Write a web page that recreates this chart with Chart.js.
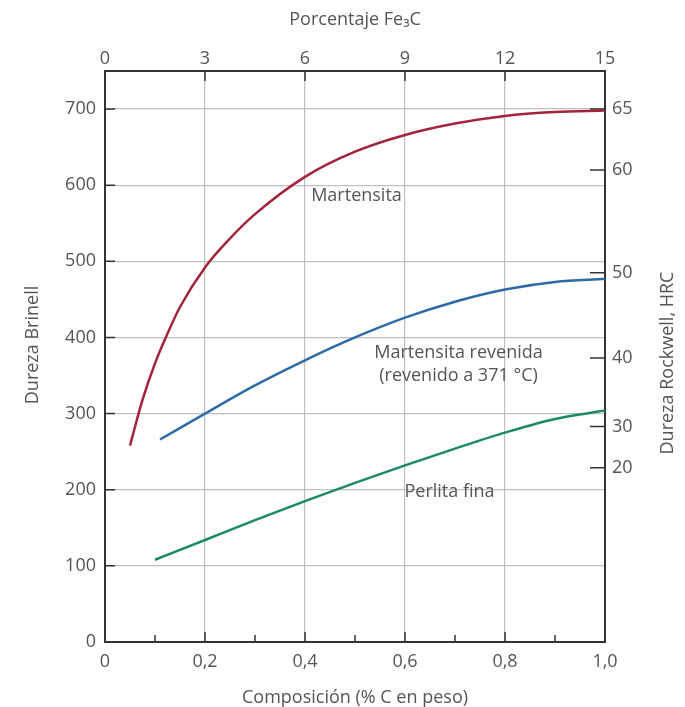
<!DOCTYPE html>
<html>
<head>
<meta charset="utf-8">
<script src="https://cdn.jsdelivr.net/npm/chart.js@4/dist/chart.umd.min.js"></script>
<style>
  html, body { margin: 0; padding: 0; background: #fff; }
  #wrap { width: 685px; height: 707px; }
</style>
</head>
<body>
<div id="wrap"><canvas id="chart" width="685" height="707"></canvas></div>
<script>
// Hardness vs. carbon content (martensite, tempered martensite, fine pearlite)

// Curve values: % C by weight -> Brinell hardness
const carbonMartensita = [0.05, 0.075, 0.10, 0.125, 0.15, 0.20, 0.25, 0.30, 0.40, 0.50, 0.60, 0.70, 0.80, 0.90, 1.00];
const hbMartensita = [258, 318, 366, 405, 440, 492, 530, 562, 611, 644, 666, 681, 691, 696, 698];

const carbonRevenida = [0.11, 0.20, 0.30, 0.40, 0.50, 0.60, 0.70, 0.80, 0.90, 1.00];
const hbRevenida = [266, 300, 337, 370, 400, 426, 447, 463, 473, 477];

const carbonPerlita = [0.10, 0.20, 0.30, 0.40, 0.50, 0.60, 0.70, 0.80, 0.90, 1.00];
const hbPerlita = [108, 134, 160, 185, 209, 232, 254, 275, 293, 304];

// Tick labels
const carbonTicks = [0, 0.2, 0.4, 0.6, 0.8, 1.0];
const carbonMinorTicks = [0.1, 0.3, 0.5, 0.7, 0.9];
const brinellTicks = [0, 100, 200, 300, 400, 500, 600, 700];
const fe3cTicks = [0, 3, 6, 9, 12, 15];
// Rockwell C scale on the right, placed at the equivalent Brinell value
const hrcTicks = [65, 60, 50, 40, 30, 20];
const hrcAtBrinell = [700, 620, 485, 373, 283, 229];

const curveNames = ['Martensita', 'Martensita revenida', 'Perlita fina'];

const TEXT = '#555';
const FONT = "'Open Sans', 'DejaVu Sans', sans-serif";
const SIZE = 18;

// text notes placed in data coordinates
const notes = [
  { text: 'Martensita', x: 0.503, y: 586 },
  { text: 'Martensita revenida', x: 0.707, y: 380 },
  { text: '(revenido a 371 °C)', x: 0.707, y: 350 },
  { text: 'Perlita fina', x: 0.689, y: 197 }
];

function toPoints(xs, ys) {
  return xs.map((x, i) => ({ x: x, y: ys[i] }));
}

function fmtComma(v) {
  return v === 0 ? '0' : v.toFixed(1).replace('.', ',');
}

const frameAndTicks = {
  id: 'frameAndTicks',
  beforeDatasetsDraw(chart) {
    const { ctx, chartArea: a, scales } = chart;
    ctx.save();
    ctx.strokeStyle = '#333';
    ctx.lineWidth = 1.5;
    ctx.beginPath();
    // bottom ticks (inward)
    carbonTicks.forEach(v => {
      const px = scales.x.getPixelForValue(v);
      ctx.moveTo(px, a.bottom); ctx.lineTo(px, a.bottom - 10);
    });
    carbonMinorTicks.forEach(v => {
      const px = scales.x.getPixelForValue(v);
      ctx.moveTo(px, a.bottom); ctx.lineTo(px, a.bottom - 7);
    });
    // top ticks
    fe3cTicks.forEach(v => {
      const px = scales.x2.getPixelForValue(v);
      ctx.moveTo(px, a.top); ctx.lineTo(px, a.top + 10);
    });
    // left ticks
    brinellTicks.forEach(v => {
      const py = scales.y.getPixelForValue(v);
      ctx.moveTo(a.left, py); ctx.lineTo(a.left + 10, py);
    });
    // right ticks
    hrcAtBrinell.forEach(v => {
      const py = scales.y2.getPixelForValue(v);
      ctx.moveTo(a.right, py); ctx.lineTo(a.right - 15, py);
    });
    ctx.stroke();

    ctx.lineWidth = 2;
    ctx.strokeRect(a.left, a.top, a.right - a.left, a.bottom - a.top);
    ctx.restore();
  },
  afterDraw(chart) {
    const { ctx, scales } = chart;
    ctx.save();
    ctx.fillStyle = TEXT;
    ctx.font = SIZE + 'px ' + FONT;
    ctx.textAlign = 'center';
    ctx.textBaseline = 'middle';
    notes.forEach(n => {
      ctx.fillText(n.text, scales.x.getPixelForValue(n.x), scales.y.getPixelForValue(n.y));
    });
    // vertical axis titles, both reading bottom to top
    ctx.save();
    ctx.translate(33, 345);
    ctx.rotate(-Math.PI / 2);
    ctx.fillText('Dureza Brinell', 0, 0);
    ctx.restore();
    ctx.translate(668, 363);
    ctx.rotate(-Math.PI / 2);
    ctx.fillText('Dureza Rockwell, HRC', 0, 0);
    ctx.restore();
  }
};

const gridColor = ctx => (ctx.index === 0 || ctx.tick.value === 1) ? 'rgba(0,0,0,0)' : '#c0c0c0';
const tickFont = { size: SIZE, family: FONT };

new Chart(document.getElementById('chart'), {
  type: 'line',
  data: {
    datasets: [
      { label: curveNames[0], data: toPoints(carbonMartensita, hbMartensita), borderColor: '#a3243a', borderWidth: 2.5 },
      { label: curveNames[1], data: toPoints(carbonRevenida, hbRevenida), borderColor: '#2f6aa8', borderWidth: 2.5 },
      { label: curveNames[2], data: toPoints(carbonPerlita, hbPerlita), borderColor: '#1c8a62', borderWidth: 2.5 }
    ]
  },
  options: {
    responsive: false,
    devicePixelRatio: 1,
    animation: false,
    layout: { padding: 0 },
    elements: {
      point: { radius: 0 },
      line: { cubicInterpolationMode: 'monotone', fill: false }
    },
    plugins: { legend: { display: false }, tooltip: { enabled: false } },
    scales: {
      x: {
        type: 'linear', position: 'bottom', min: 0, max: 1,
        afterBuildTicks: s => { s.ticks = carbonTicks.map(v => ({ value: v })); },
        afterFit: s => { s.height = 65; },
        grid: { color: gridColor, lineWidth: 1.2, drawTicks: false },
        border: { display: false },
        ticks: { padding: 9, color: TEXT, font: tickFont, callback: v => fmtComma(v), maxRotation: 0 },
        title: { display: true, text: 'Composición (% C en peso)', color: TEXT, font: tickFont, padding: { top: 0, bottom: -2 } }
      },
      x2: {
        type: 'linear', position: 'top', min: 0, max: 15,
        afterBuildTicks: s => { s.ticks = fe3cTicks.map(v => ({ value: v })); },
        afterFit: s => { s.height = 71; },
        grid: { display: false, drawTicks: false },
        border: { display: false },
        ticks: { padding: 1, color: TEXT, font: tickFont, maxRotation: 0 },
        title: { display: true, text: 'Porcentaje Fe₃C', color: TEXT, font: tickFont, padding: { top: 9, bottom: 0 } }
      },
      y: {
        type: 'linear', position: 'left', min: 0, max: 750,
        afterBuildTicks: s => { s.ticks = brinellTicks.map(v => ({ value: v })); },
        afterFit: s => { s.width = 105; },
        grid: { color: gridColor, lineWidth: 1.2, drawTicks: false },
        border: { display: false },
        ticks: { padding: 9, color: TEXT, font: tickFont }
      },
      y2: {
        type: 'linear', position: 'right', min: 0, max: 750,
        afterBuildTicks: s => { s.ticks = hrcAtBrinell.map(v => ({ value: v })); },
        afterFit: s => { s.width = 80; },
        grid: { display: false, drawTicks: false },
        border: { display: false },
        ticks: { padding: 7, color: TEXT, font: tickFont, callback: (v, i) => String(hrcTicks[i]) }
      }
    }
  },
  plugins: [frameAndTicks]
});
</script>
</body>
</html>
